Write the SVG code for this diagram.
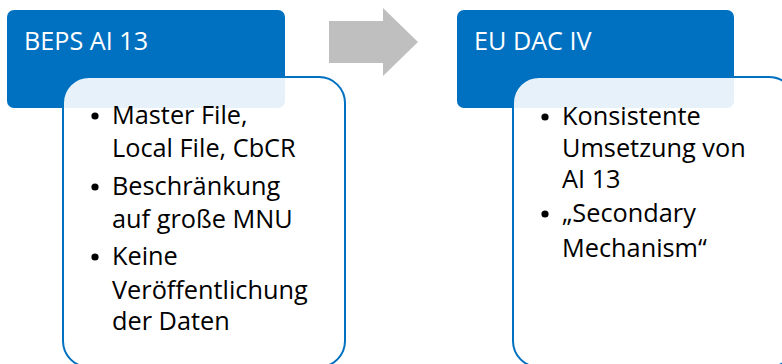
<svg xmlns="http://www.w3.org/2000/svg" width="782" height="364" viewBox="0 0 782 364">
<style>
.hdr{fill:#0070C0}
.box{fill:#FFFFFF;fill-opacity:0.9;stroke:#0070C0;stroke-width:2}
.ht{font-family:"Open Sans","Liberation Sans",sans-serif;font-size:25.2px;fill:#FFFFFF}
.bt{font-family:"Open Sans","Liberation Sans",sans-serif;font-size:25.3px;fill:#000000}
.arrow{fill:#BFBFBF}
</style>
<rect width="782" height="364" fill="#FFFFFF"/>
<g id="connectors">
<polygon class="arrow" points="329,21 383,21 383,8 418,42 383,76 383,63 329,63"/>
</g>
<g id="node-beps">
<rect class="hdr" x="7" y="10" width="278" height="98" rx="7"/>
<text class="ht" x="24" y="50">BEPS AI 13</text>
<rect class="box" x="63" y="77" width="282" height="290" rx="26"/>
<circle cx="95" cy="116" r="3.6"/>
<circle cx="95" cy="187" r="3.6"/>
<circle cx="95" cy="257" r="3.6"/>
<text class="bt">
<tspan x="112" y="124">Master File,</tspan>
<tspan x="112" y="157">Local File, CbCR</tspan>
<tspan x="112" y="195">Beschränkung</tspan>
<tspan x="112" y="228">auf große MNU</tspan>
<tspan x="112" y="265">Keine</tspan>
<tspan x="112" y="299">Veröffentlichung</tspan>
<tspan x="112" y="330">der Daten</tspan>
</text>
</g>
<g id="node-dac">
<rect class="hdr" x="457" y="10" width="277" height="98" rx="7"/>
<text class="ht" x="474" y="50">EU DAC IV</text>
<rect class="box" x="513" y="77" width="282" height="290" rx="26"/>
<circle cx="545" cy="117" r="3.6"/>
<circle cx="545" cy="214" r="3.6"/>
<text class="bt">
<tspan x="562" y="125">Konsistente</tspan>
<tspan x="562" y="157">Umsetzung von</tspan>
<tspan x="562" y="188">AI 13</tspan>
<tspan x="562" y="222">„Secondary</tspan>
<tspan x="562" y="257">Mechanism“</tspan>
</text>
</g>
</svg>
